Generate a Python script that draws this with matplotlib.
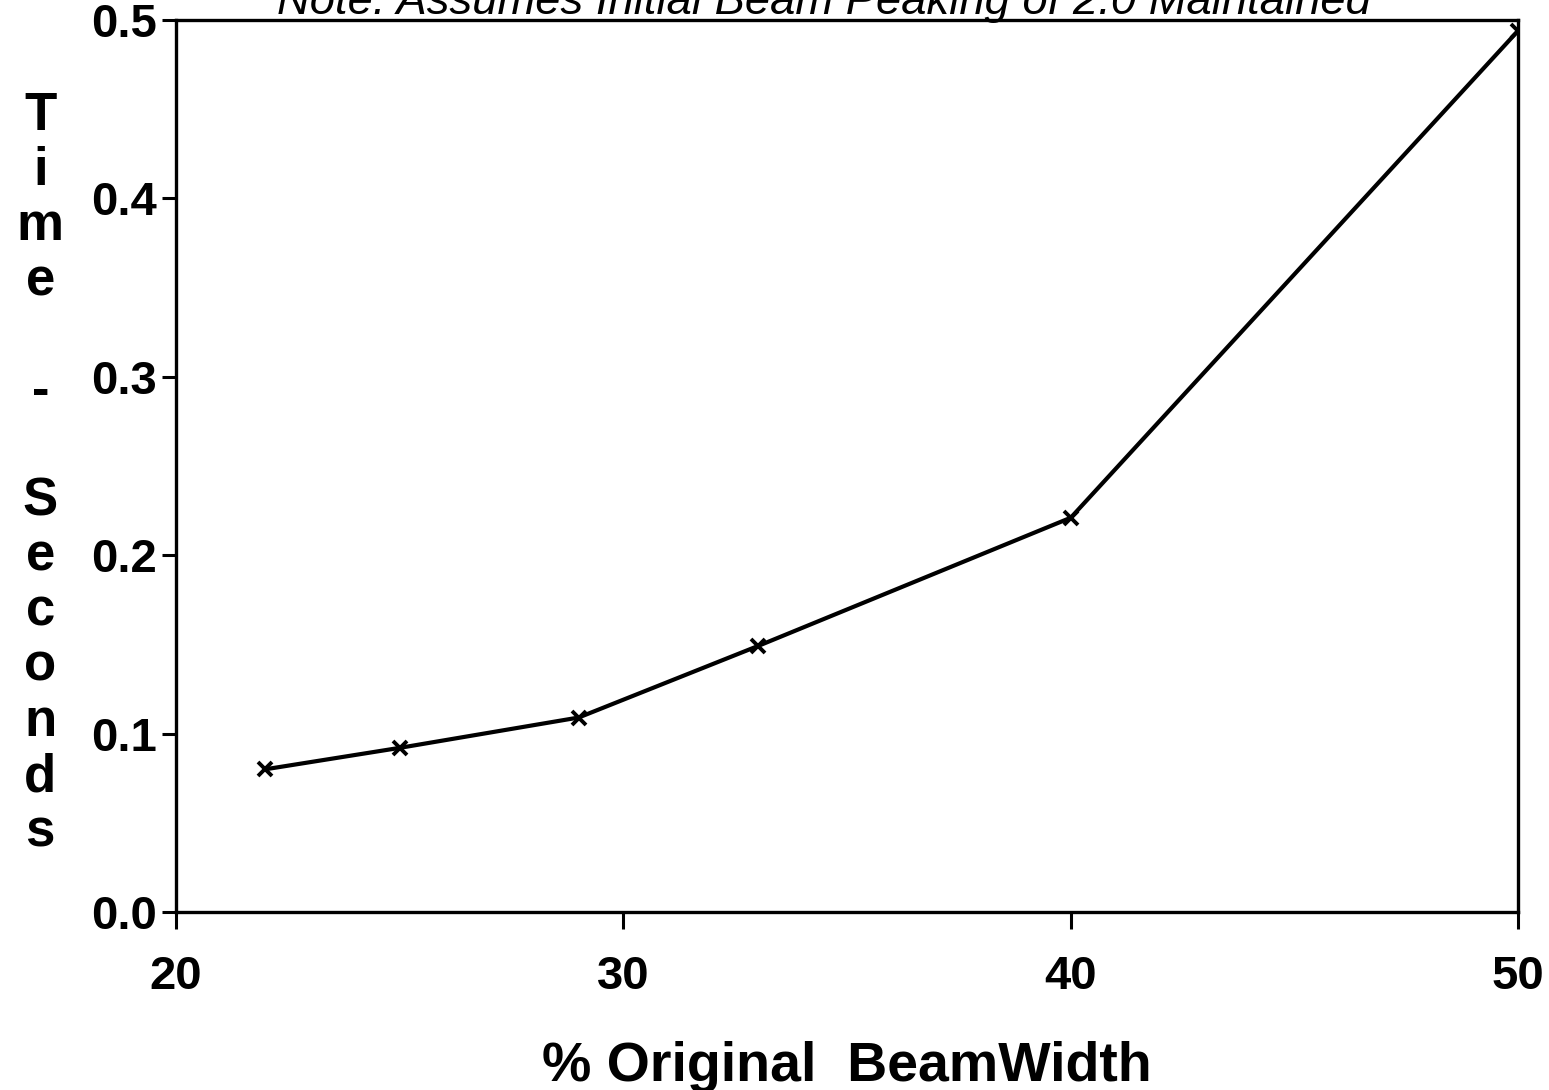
import matplotlib
matplotlib.use("Agg")
import matplotlib.pyplot as plt

# % of original beam width vs. time (seconds)
beam_width = [22, 25, 29, 33, 40, 50]
time_sec = [0.080, 0.092, 0.109, 0.149, 0.221, 0.494]

x_ticks = [20, 30, 40, 50]
y_ticks = [0.0, 0.1, 0.2, 0.3, 0.4, 0.5]

plt.rcParams['font.family'] = ['Liberation Sans', 'DejaVu Sans']

fig = plt.figure(figsize=(15.49, 10.9), dpi=100)
ax = fig.add_axes([0.1136, 0.1633, 0.8665, 0.8184])

ax.plot(beam_width, time_sec, color='black', lw=3, marker='x',
        markersize=10, markeredgewidth=2.8)

ax.set_xlim(20, 50)
ax.set_ylim(0, 0.5)
ax.set_xticks(x_ticks)
ax.set_yticks(y_ticks)
ax.set_xticklabels([str(v) for v in x_ticks], fontsize=34, fontweight='bold')
ax.set_yticklabels(['%.1f' % v for v in y_ticks], fontsize=34, fontweight='bold')
ax.tick_params(axis='x', direction='out', length=12, width=2.2, pad=19)
ax.tick_params(axis='y', direction='out', length=10, width=2.2, pad=4)
for s in ax.spines.values():
    s.set_linewidth(2.4)

ax.set_xlabel('% Original  BeamWidth', fontsize=40, fontweight='bold', labelpad=30)

# stacked vertical y label
fig.text(0.026, 0.565, 'T\ni\nm\ne\n\n-\n\nS\ne\nc\no\nn\nd\ns',
         ha='center', va='center', fontsize=38, fontweight='bold',
         linespacing=1.13)

# title sits partly cut off at the top edge
fig.text(0.532, 0.987, 'Note: Assumes Initial Beam Peaking of 2.0 Maintained',
         ha='center', va='baseline', fontsize=32.7, style='italic')

fig.savefig('out.png', dpi=100)
